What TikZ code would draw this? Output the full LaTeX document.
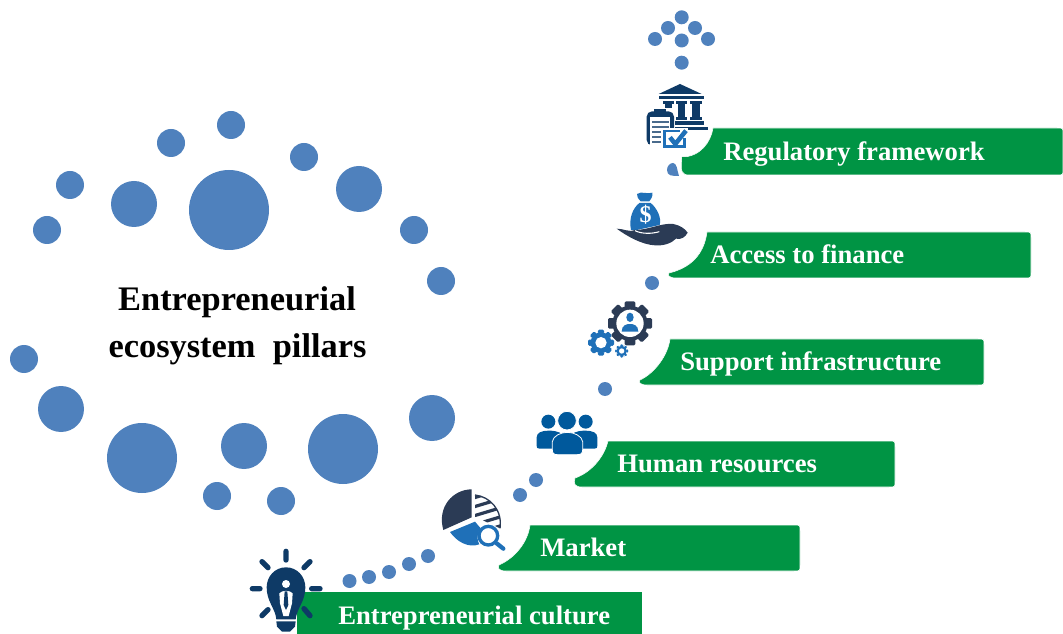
\documentclass[tikz,border=0pt]{standalone}
\usepackage{fontspec}
\setmainfont{Liberation Serif}
\definecolor{dotblue}{HTML}{4F81BD}
\definecolor{barg}{HTML}{009444}
\definecolor{navy}{HTML}{0E3A66}
\definecolor{slate}{HTML}{2B3B55}
\definecolor{midblue}{HTML}{1F70B8}
\definecolor{peop}{HTML}{00599C}
\tikzset{
  dot/.style={fill=dotblue,draw=none},
  barshape/.style={fill=barg,draw=white,line width=0.4pt},
  barlabel/.style={anchor=base west,inner sep=0pt,text=white,font=\bfseries\fontsize{20pt}{24pt}\selectfont},
  titletext/.style={anchor=base,inner sep=0pt,text=black,font=\bfseries\fontsize{25.8pt}{30pt}\selectfont},
  zoomed/.style={xscale=1/3,yscale=1/3}
}
% #1 x of notch tip, #2 y of notch tip, #3 top y, #4 right x, #5 bottom y, #6 x where top begins, #7 c1, #8 c2
\newcommand{\greenbar}[8]{
  \path[barshape] (#6,#3) -- ({#4-6},#3) .. controls (#4,#3) .. (#4,{#3+6}) -- (#4,{#5-6})
    .. controls (#4,#5) .. ({#4-6},#5) -- ({#1+7},#5) .. controls (#1,#5) and ({#1-2},{#5-3}) .. (#1,#2)
    .. controls #8 and #7 .. (#6,#3) -- cycle;
}
% x y outer inner teeth colour
\newcommand{\gearicon}[6]{
  \fill[#6] (#1,#2) circle ({#3*0.8});
  \foreach \a in {1,...,#5}{
    \fill[#6,rounded corners=1pt,rotate around={\a*360/#5:(#1,#2)}] ({#1-#3*0.24},{#2-#3*1.0}) rectangle ({#1+#3*0.24},{#2-#3*0.7});
  }
  \fill[white] (#1,#2) circle (#4);
}
\begin{document}
\begin{tikzpicture}[x=0.75pt,y=-0.75pt]
\useasboundingbox (0,0) rectangle (1063,634);
% left cloud
\foreach \x/\y/\r in {229/210/40,134/204/23,70/185/14,47/230/14,171/143/14,231/125/14,304/157/14,359/189/23,414/230/14,441/281/14,24/359/14,61/409/23,142/458/35,244/446/23,343/449/35,432/418/23,217/496/14,281/501/14}
  \fill[dot] (\x,\y) circle (\r);
\node[titletext] (t1) at (237,311) {Entrepreneurial};
\node[titletext] (t2) at (237.5,358) {ecosystem\ \ pillars};
% stairs dots
\foreach \x/\y in {681.7/17.3,668/28,695/28,655/39,681.7/40.5,708/39,681.7/62.7,652/283,605/389,536/480,520/495,349.5/581,369/577,389/572,409/564,428/556}
  \fill[dot] (\x,\y) circle (7);
\fill[dot] (679,176) .. controls (672,176) and (667,176) .. (667,170) .. controls (667,166) and (670,163) .. (673,163) .. controls (677,163) and (677,170) .. (679,176) -- cycle;

% bank icon
\begin{scope}[shift={(600,0)},zoomed]
  \fill[navy] (176,282) -- (240,252) -- (305,282) -- cycle;
  \fill[navy] (178,287) rectangle (312,298);
  \foreach \c in {205,245,288}{
    \fill[navy] (\c-17,302) rectangle (\c+17,312);
    \fill[navy] (\c-11,310) rectangle (\c+11,352);
    \fill[navy] (\c-17,350) rectangle (\c+17,360);
  }
  \fill[navy] (225,362) rectangle (312,375);
  \fill[navy] (225,380) rectangle (325,390);
  \fill[white] (132,324) rectangle (225,445);
  \fill[navy,rounded corners=4] (140,334) rectangle (222,436);
  \fill[white] (151,350) rectangle (211,440);
  \fill[navy] (163,326) rectangle (199,344);
  \foreach \yy in {362,377,392,407,422}
    \fill[navy!75] (157,\yy) rectangle (207,\yy+8);
  \fill[white] (184,384) rectangle (265,447);
  \draw[midblue,line width=2.2pt] (194,393) -- (254,393) -- (254,440) -- (194,440) -- cycle;
  \fill[white] (240,385) rectangle (265,415);
  \draw[midblue,line width=3.4pt] (210,412) -- (226,432) -- (258,392);
\end{scope}
\greenbar{682}{157}{128}{1063}{175}{713}{(711,142)}{(700,157)}
\fill[barg] (682.3,157) rectangle (700,170);
\node[barlabel] (l1) at (723,161) {Regulatory framework};

% money hand
\begin{scope}[shift={(570,180)},zoomed]
  \fill[midblue] (201,42) .. controls (215,32) and (232,44) .. (247,38) .. controls (250,48) and (242,58) .. (238,64) -- (212,64) .. controls (206,58) and (199,50) .. (201,42) -- cycle;
  \fill[midblue] (208,69) -- (242,69) .. controls (262,85) and (275,115) .. (269,135) -- (200,150) -- (183,150) .. controls (176,115) and (188,85) .. (208,69) -- cycle;
  \node[text=white,inner sep=0pt,font=\bfseries\fontsize{18pt}{18pt}\selectfont] (dollar) at (227,105) {\$};
  \fill[slate] (140,146) .. controls (160,146) and (180,158) .. (195,150) .. controls (235,150) and (275,128) .. (310,132) .. controls (330,136) and (345,146) .. (353,158) .. controls (346,172) and (332,180) .. (318,176) .. controls (305,190) and (280,198) .. (255,196) .. controls (215,194) and (170,168) .. (140,146) -- cycle;
  \draw[white,line width=0.8pt] (195,152) .. controls (215,162) and (245,162) .. (268,155);
\end{scope}
\greenbar{669}{273}{232}{1031}{278}{707}{(704,255)}{(690,268)}
\node[barlabel] (l2) at (710,264) {Access to finance};

% gears
\begin{scope}[shift={(570,180)},zoomed]
  \gearicon{180}{430}{66}{41}{8}{slate}
  \fill[midblue] (180,412) ellipse (11 and 14);
  \fill[midblue] (155,455) .. controls (155,435) and (170,432) .. (180,432) .. controls (190,432) and (205,435) .. (205,455) -- cycle;
  \gearicon{93}{488}{39}{17}{8}{midblue}
  \gearicon{155}{513}{20}{8}{8}{midblue}
\end{scope}
\greenbar{640}{380}{339}{984}{385}{670}{(668,355)}{(655,373)}
\node[barlabel] (l3) at (680,370) {Support infrastructure};

% people
\begin{scope}[shift={(420,400)},zoomed]
  \fill[peop] (385,65) circle (21);
  \fill[peop] (497,65) circle (21);
  \fill[peop] (350,135) .. controls (350,145) and (352,146) .. (360,146) -- (420,146) -- (430,105) .. controls (415,92) and (395,92) .. (385,92) .. controls (365,92) and (350,98) .. (350,112) -- cycle;
  \fill[peop] (532,135) .. controls (532,145) and (530,146) .. (522,146) -- (462,146) -- (452,105) .. controls (467,92) and (487,92) .. (497,92) .. controls (517,92) and (532,98) .. (532,112) -- cycle;
  \fill[peop,draw=white,line width=0.6pt] (441,62) circle (28);
  \fill[peop,draw=white,line width=0.6pt] (397,150) .. controls (397,160) and (402,164) .. (412,164) -- (472,164) .. controls (482,164) and (488,160) .. (488,150) -- (488,125) .. controls (486,108) and (462,97) .. (442,97) .. controls (422,97) and (399,108) .. (397,125) -- cycle;
\end{scope}
\greenbar{575}{478}{441}{895}{487}{608}{(604,458)}{(590,473)}
\node[barlabel] (l4) at (617,472) {Human resources};

% pie chart
\begin{scope}[shift={(420,400)},zoomed]
  \fill[slate] (155,268) .. controls (100,268) and (50,320) .. (70,390) -- (155,352) -- cycle;
  \begin{scope}
    \clip (165,285) .. controls (210,290) and (248,330) .. (240,385) -- (165,350) -- cycle;
    \fill[white] (150,270) rectangle (250,400);
    \foreach \s in {240,267,...,400}
      \draw[slate,line width=2.4pt] (150,\s+30) -- (250,\s);
  \end{scope}
  \draw[slate,line width=1pt] (165,285) .. controls (210,290) and (248,330) .. (240,385);
  \fill[midblue] (90,396) -- (165,365) -- (182,385) .. controls (170,400) and (170,420) .. (178,433) .. controls (145,445) and (110,425) .. (90,396) -- cycle;
  \draw[midblue,line width=2.5pt,fill=white] (205,407) circle (28);
  \draw[midblue,line width=3.2pt,line cap=round] (230,430) -- (250,446);
\end{scope}
\greenbar{499}{565}{525}{800}{571}{530}{(528,542)}{(515,558)}
\node[barlabel] (l5) at (540,556) {Market};

% culture bar and bulb
\fill[barg] (297,592) -- (642,592) -- (642,634) -- (297,634) -- cycle;
\node[barlabel] (l6) at (338,624) {Entrepreneurial culture};
\begin{scope}[shift={(230,530)},zoomed]
  \fill[navy] (168,112) .. controls (202,112) and (226,140) .. (226,172) .. controls (226,215) and (200,235) .. (197,268) -- (139,268) .. controls (136,235) and (110,215) .. (110,172) .. controls (110,140) and (134,112) .. (168,112) -- cycle;
  \fill[navy] (139,274) -- (197,274) -- (195,290) -- (180,305) -- (156,305) -- (141,290) -- cycle;
  \draw[navy,line width=4pt,line cap=round] (168,64) -- (168,90)
    (96,95) -- (114,113) (240,95) -- (222,113) (67,176) -- (90,176) (245,176) -- (270,176)
    (96,257) -- (114,239) (222,236) -- (240,257);
  \fill[white] (168,162) circle (12);
  \fill[white] (148,190) .. controls (156,180) and (180,180) .. (188,190) -- (186,220) -- (176,258) -- (160,258) -- (150,220) -- cycle;
  \fill[navy] (164,184) -- (172,184) -- (175,225) -- (168,240) -- (161,225) -- cycle;
\end{scope}
\end{tikzpicture}
\end{document}
